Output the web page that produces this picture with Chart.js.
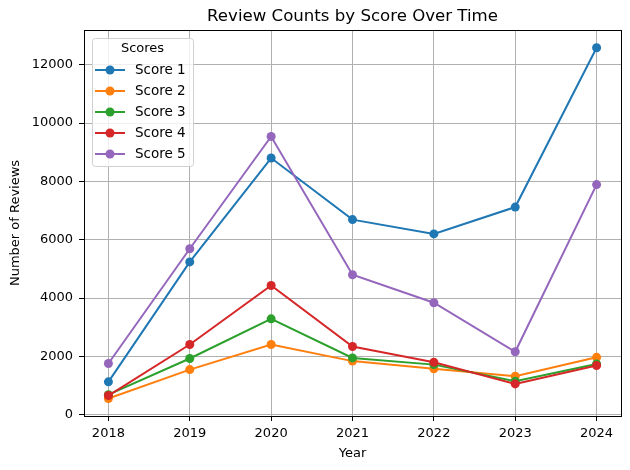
<!DOCTYPE html>
<html>
<head>
<meta charset="utf-8">
<script src="https://cdn.jsdelivr.net/npm/chart.js@4"></script>
<style>
html,body{margin:0;padding:0;background:#fff;}
canvas{display:block;}
</style>
</head>
<body>
<canvas id="c" width="630" height="470"></canvas>
<script>
const years = [2018, 2019, 2020, 2021, 2022, 2023, 2024];
const yTicks = [0, 2000, 4000, 6000, 8000, 10000, 12000];
const seriesLabels = ['Score 1', 'Score 2', 'Score 3', 'Score 4', 'Score 5'];
const score1 = [1130, 5240, 8800, 6690, 6200, 7120, 12580];
const score2 = [560, 1550, 2410, 1840, 1575, 1320, 1970];
const score3 = [690, 1930, 3290, 1950, 1720, 1150, 1740];
const score4 = [660, 2410, 4430, 2340, 1800, 1060, 1690];
const score5 = [1760, 5690, 9540, 4800, 3840, 2160, 7890];
const colors = ['#1f77b4', '#ff7f0e', '#2ca02c', '#d62728', '#9467bd'];
const allSeries = [score1, score2, score3, score4, score5];
const chartTitle = 'Review Counts by Score Over Time';
const legendTitle = 'Scores';

Chart.defaults.font.family = "'DejaVu Sans', sans-serif";
Chart.defaults.font.size = 13;
Chart.defaults.color = '#000';

const datasets = allSeries.map((s, i) => ({
  label: seriesLabels[i],
  data: s.map((v, j) => ({x: years[j], y: v})),
  borderColor: colors[i],
  backgroundColor: colors[i],
  borderWidth: 2,
  pointRadius: 4.5,
  pointBorderWidth: 0,
  pointBackgroundColor: colors[i],
  order: allSeries.length - i,
  tension: 0
}));

const framePlugin = {
  id: 'frame',
  afterDraw(chart) {
    const {ctx, chartArea: a} = chart;
    ctx.save();
    ctx.strokeStyle = '#000';
    ctx.lineWidth = 1;
    ctx.strokeRect(Math.round(a.left) + 0.5, Math.round(a.top) + 0.5, Math.round(a.right - a.left), Math.round(a.bottom - a.top));
    // title
    ctx.fillStyle = '#000';
    ctx.font = "16.6px 'DejaVu Sans', sans-serif";
    ctx.textAlign = 'center';
    ctx.textBaseline = 'middle';
    ctx.fillText(chartTitle, (a.left + a.right) / 2, 16.5);
    // legend
    const lx = 92, ly = 38, lw = 101, lh = 128;
    ctx.beginPath();
    ctx.roundRect(lx + 0.5, ly + 0.5, lw, lh, 3);
    ctx.fillStyle = 'rgba(255,255,255,0.8)';
    ctx.fill();
    ctx.strokeStyle = '#d0d0d0';
    ctx.stroke();
    ctx.fillStyle = '#000';
    ctx.font = "13px 'DejaVu Sans', sans-serif";
    ctx.textAlign = 'center';
    ctx.fillText(legendTitle, lx + lw / 2, ly + 11);
    chart.data.datasets.forEach((ds, i) => {
      const y = ly + 32 + i * 21;
      ctx.strokeStyle = ds.borderColor;
      ctx.lineWidth = 2;
      ctx.beginPath();
      ctx.moveTo(lx + 3, y);
      ctx.lineTo(lx + 33, y);
      ctx.stroke();
      ctx.beginPath();
      ctx.arc(lx + 18, y, 4.5, 0, Math.PI * 2);
      ctx.fillStyle = ds.borderColor;
      ctx.fill();
      ctx.fillStyle = '#000';
      ctx.textAlign = 'left';
      ctx.font = "13.5px 'DejaVu Sans', sans-serif";
      ctx.fillText(ds.label, lx + 43, y);
    });
    ctx.restore();
  }
};

new Chart(document.getElementById('c'), {
  type: 'line',
  data: {datasets},
  plugins: [framePlugin],
  options: {
    responsive: false,
    animation: false,
    devicePixelRatio: 1,
    layout: {padding: {left: 0, right: 9, top: 30, bottom: 0}},
    plugins: {
      legend: {display: false},
      tooltip: {enabled: false},
      title: {display: false}
    },
    scales: {
      x: {
        type: 'linear',
        min: 2017.7,
        max: 2024.3,
        afterBuildTicks: s => { s.ticks = years.map(v => ({value: v})); },
        afterFit: s => { s.height = 54; },
        ticks: {includeBounds: false, padding: 4.5, color: '#000', callback: v => String(v), maxRotation: 0},
        grid: {color: '#b0b0b0', lineWidth: 1, tickColor: '#000', tickLength: 5, drawTicks: true},
        border: {display: true, color: '#000', width: 1},
        title: {display: true, text: 'Year', color: '#000', font: {size: 13}, padding: {top: 0, bottom: 9}}
      },
      y: {
        type: 'linear',
        min: -41,
        max: 13189,
        afterBuildTicks: s => { s.ticks = yTicks.map(v => ({value: v})); },
        afterFit: s => { s.width = 84; },
        ticks: {includeBounds: false, padding: 6, color: '#000', callback: v => String(v)},
        grid: {color: '#b0b0b0', lineWidth: 1, tickColor: '#000', tickLength: 5, drawTicks: true},
        border: {display: true, color: '#000', width: 1},
        title: {display: true, text: 'Number of Reviews', color: '#000', font: {size: 13}, padding: {top: 8, bottom: 0}}
      }
    }
  }
});
</script>
</body>
</html>
